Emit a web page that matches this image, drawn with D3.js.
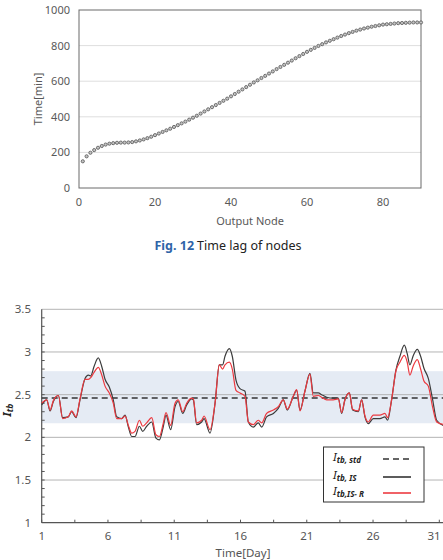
<!DOCTYPE html>
<html>
<head>
<meta charset="utf-8">
<script src="https://cdn.jsdelivr.net/npm/d3@7"></script>
<style>
  body { margin: 0; background: #fff; }
  text { font-family: "Noto Sans", "Open Sans", sans-serif; }
</style>
</head>
<body>
<div id="chart"></div>
<script>
// ---- Fig. 12 : time lag of nodes ----
var nodes = d3.range(1, 91);
var lagMin = [150, 178, 198, 213, 226, 236, 244, 249, 252, 254,
  255, 255, 256, 258, 262, 267, 273, 280, 288, 297,
  306, 315, 324, 333, 343, 353, 363, 373, 384, 395,
  406, 418, 430, 442, 454, 466, 478, 490, 502, 515,
  528, 541, 554, 567, 580, 593, 605, 618, 630, 643,
  655, 668, 680, 692, 704, 716, 729, 741, 753, 765,
  776, 787, 798, 808, 818, 827, 836, 845, 854, 862,
  870, 877, 884, 890, 896, 901, 906, 910, 914, 918,
  920, 922, 924, 926, 927, 928, 929, 930, 930, 930];
var lagTicksY = [0, 200, 400, 600, 800, 1000];
var lagTicksX = [0, 20, 40, 60, 80];

// ---- Itb chart ----
var days = [1, 1.38, 1.63, 1.88, 2.26, 2.58, 3.0, 3.26, 3.59, 3.89,
  4.27, 4.52, 4.7, 4.95, 5.27, 5.53, 5.78, 6.1, 6.4, 6.66,
  7.03, 7.29, 7.54, 7.79, 8.04, 8.37, 8.62, 8.92, 9.3, 9.62,
  9.88, 10.18, 10.38, 10.73, 11.06, 11.3, 11.64, 11.94, 12.32, 12.44,
  12.69, 13.07, 13.25, 13.7, 14.08, 14.4, 14.65, 14.83, 15.16, 15.38,
  15.66, 15.96, 16.34, 16.59, 16.97, 17.34, 17.6, 17.97, 18.48, 18.85,
  19.23, 19.53, 19.98, 20.24, 20.49, 20.86, 21.24, 21.49, 21.87, 22.12,
  22.5, 23.0, 23.38, 23.63, 23.88, 24.21, 24.46, 24.89, 25.14, 25.39,
  25.64, 26.02, 26.52, 26.9, 27.1, 27.4, 27.73, 28.03, 28.36, 28.58,
  28.78, 29.04, 29.34, 29.59, 29.84, 30.17, 30.5, 30.8, 31.3];
var itbIS = [2.38, 2.44, 2.31, 2.42, 2.49, 2.23, 2.24, 2.30, 2.23, 2.44,
  2.69, 2.73, 2.72, 2.83, 2.93, 2.83, 2.68, 2.59, 2.44, 2.24,
  2.22, 2.26, 2.12, 2.01, 2.01, 2.13, 2.07, 2.13, 2.18, 1.99,
  1.97, 2.13, 2.26, 2.09, 2.36, 2.42, 2.28, 2.38, 2.45, 2.44,
  2.15, 2.18, 2.22, 2.05, 2.40, 2.85, 2.85, 2.95, 3.04, 2.95,
  2.67, 2.57, 2.54, 2.18, 2.12, 2.17, 2.12, 2.24, 2.28, 2.34,
  2.44, 2.32, 2.48, 2.55, 2.32, 2.54, 2.75, 2.52, 2.52, 2.50,
  2.47, 2.46, 2.46, 2.28, 2.44, 2.52, 2.32, 2.30, 2.44, 2.24,
  2.16, 2.22, 2.22, 2.24, 2.20, 2.44, 2.79, 2.95, 3.08, 2.98,
  2.85, 2.96, 3.03, 2.95, 2.81, 2.69, 2.44, 2.20, 2.14];
var itbISR = [2.40, 2.44, 2.32, 2.43, 2.49, 2.22, 2.24, 2.31, 2.24, 2.45,
  2.68, 2.68, 2.70, 2.76, 2.82, 2.73, 2.60, 2.52, 2.40, 2.22,
  2.22, 2.25, 2.14, 2.05, 2.07, 2.20, 2.13, 2.17, 2.23, 2.03,
  2.01, 2.17, 2.29, 2.14, 2.40, 2.44, 2.30, 2.40, 2.46, 2.45,
  2.17, 2.20, 2.25, 2.09, 2.40, 2.85, 2.80, 2.85, 2.88, 2.80,
  2.55, 2.52, 2.48, 2.18, 2.15, 2.20, 2.17, 2.28, 2.32, 2.36,
  2.44, 2.33, 2.48, 2.56, 2.31, 2.54, 2.74, 2.48, 2.49, 2.47,
  2.44, 2.44, 2.45, 2.29, 2.44, 2.52, 2.33, 2.31, 2.44, 2.25,
  2.18, 2.26, 2.26, 2.28, 2.23, 2.44, 2.78, 2.88, 2.96, 2.88,
  2.73, 2.84, 2.91, 2.80, 2.66, 2.60, 2.35, 2.18, 2.15];
var itbStd = 2.46;
var itbBand = [2.165, 2.775];
var itbTicksY = [1, 1.5, 2, 2.5, 3, 3.5];
var itbTicksX = [1, 6, 11, 16, 21, 26, 31];

var svg = d3.select('#chart').append('svg')
    .attr('width', 443).attr('height', 560);

// ================= top chart =================
var x1 = d3.scaleLinear().domain([0, 90]).range([79, 421]);
var y1 = d3.scaleLinear().domain([0, 1000]).range([188, 10]);
var g1 = svg.append('g');

g1.selectAll('line.grid').data(lagTicksY.slice(1, -1)).enter().append('line')
    .attr('x1', x1(0)).attr('x2', x1(90))
    .attr('y1', function(d) { return y1(d); }).attr('y2', function(d) { return y1(d); })
    .attr('stroke', '#dedede').attr('stroke-width', 1);

g1.append('rect')
    .attr('x', x1(0)).attr('y', y1(1000))
    .attr('width', x1(90) - x1(0)).attr('height', y1(0) - y1(1000))
    .attr('fill', 'none').attr('stroke', '#6a6a6a').attr('stroke-width', 1);

g1.selectAll('text.ty').data(lagTicksY).enter().append('text')
    .attr('x', 70).attr('y', function(d) { return y1(d) + 4; })
    .attr('text-anchor', 'end').attr('font-size', 11).attr('fill', '#595959')
    .text(function(d) { return d; });

g1.selectAll('text.tx').data(lagTicksX).enter().append('text')
    .attr('x', function(d) { return x1(d); }).attr('y', 206)
    .attr('text-anchor', 'middle').attr('font-size', 11).attr('fill', '#595959')
    .text(function(d) { return d; });

g1.append('text').attr('x', 250).attr('y', 225)
    .attr('text-anchor', 'middle').attr('font-size', 11).attr('fill', '#595959')
    .text('Output  Node');
g1.append('text')
    .attr('transform', 'translate(42,99) rotate(-90)')
    .attr('text-anchor', 'middle').attr('font-size', 11).attr('fill', '#595959')
    .text('Time[min]');

g1.selectAll('circle').data(nodes).enter().append('circle')
    .attr('cx', function(d) { return x1(d); })
    .attr('cy', function(d, i) { return y1(lagMin[i]); })
    .attr('r', 1.6)
    .attr('fill', '#c4c4c4').attr('stroke', '#555').attr('stroke-width', 0.8);

var cap = svg.append('text').attr('x', 228).attr('y', 250)
    .attr('text-anchor', 'middle').attr('font-size', 12.5);
cap.append('tspan').attr('fill', '#2f64a8').attr('font-weight', 'bold').text('Fig. 12');
cap.append('tspan').attr('fill', '#222').attr('dx', 3).text('Time lag of nodes');

// ================= bottom chart =================
var x2 = d3.scaleLinear().domain([1, 31]).range([41.7, 439.3]);
var y2 = d3.scaleLinear().domain([1, 3.5]).range([522.7, 309.3]);
var g2 = svg.append('g');
var right = 445;

g2.append('rect')
    .attr('x', x2(1)).attr('y', y2(itbBand[1]))
    .attr('width', right - x2(1)).attr('height', y2(itbBand[0]) - y2(itbBand[1]))
    .attr('fill', '#e5ebf4');

g2.selectAll('line.grid').data(itbTicksY.slice(1)).enter().append('line')
    .attr('x1', x2(1)).attr('x2', right)
    .attr('y1', function(d) { return y2(d); }).attr('y2', function(d) { return y2(d); })
    .attr('stroke', '#b4b4b4').attr('stroke-width', 1);

// axes
g2.append('line').attr('x1', x2(1)).attr('x2', x2(1))
    .attr('y1', y2(3.5)).attr('y2', y2(1)).attr('stroke', '#555').attr('stroke-width', 1.2);
g2.append('line').attr('x1', x2(1)).attr('x2', right)
    .attr('y1', y2(1)).attr('y2', y2(1)).attr('stroke', '#555').attr('stroke-width', 1.2);

var minorY = d3.range(11, 35).map(function(d) { return d / 10; });
g2.selectAll('line.my').data(minorY).enter().append('line')
    .attr('x1', x2(1)).attr('x2', x2(1) + 3)
    .attr('y1', function(d) { return y2(d); }).attr('y2', function(d) { return y2(d); })
    .attr('stroke', '#555').attr('stroke-width', 1);
var minorX = d3.range(0, 13).map(function(d) { return 1 + d * 2.5; });
g2.selectAll('line.mx').data(minorX).enter().append('line')
    .attr('x1', function(d) { return x2(d); }).attr('x2', function(d) { return x2(d); })
    .attr('y1', y2(1)).attr('y2', y2(1) - 3)
    .attr('stroke', '#555').attr('stroke-width', 1);

g2.selectAll('text.ty').data(itbTicksY).enter().append('text')
    .attr('x', 31).attr('y', function(d) { return y2(d) + 4; })
    .attr('text-anchor', 'end').attr('font-size', 11.5).attr('fill', '#555')
    .text(function(d) { return d; });
g2.selectAll('text.tx').data(itbTicksX).enter().append('text')
    .attr('x', function(d) { return Math.min(x2(d), 434); }).attr('y', 540)
    .attr('text-anchor', 'middle').attr('font-size', 11.5).attr('fill', '#555')
    .text(function(d) { return d; });
g2.append('text').attr('x', 243).attr('y', 557)
    .attr('text-anchor', 'middle').attr('font-size', 11.5).attr('fill', '#555')
    .text('Time[Day]');

var yl = g2.append('text')
    .attr('transform', 'translate(11,410) rotate(-90)')
    .attr('text-anchor', 'middle').attr('fill', '#222')
    .attr('font-family', 'DejaVu Serif').attr('font-style', 'italic').attr('font-weight', 'bold');
yl.append('tspan').attr('font-size', 11).text('I');
yl.append('tspan').attr('font-size', 8.5).attr('dy', 2).text('tb');

// std line
g2.append('line').attr('x1', x2(1)).attr('x2', right)
    .attr('y1', y2(itbStd)).attr('y2', y2(itbStd))
    .attr('stroke', '#333').attr('stroke-width', 1.5).attr('stroke-dasharray', '6,4');

var line = d3.line()
    .x(function(d, i) { return x2(days[i]); })
    .y(function(d) { return y2(d); })
    .curve(d3.curveMonotoneX);

g2.append('path').datum(itbIS).attr('d', line)
    .attr('fill', 'none').attr('stroke', '#3c3c3c').attr('stroke-width', 1.2);
g2.append('path').datum(itbISR).attr('d', line)
    .attr('fill', 'none').attr('stroke', '#ec3a40').attr('stroke-width', 1.2);

// legend
var lg = g2.append('g');
lg.append('rect').attr('x', 323.5).attr('y', 447).attr('width', 100.5).attr('height', 55)
    .attr('fill', '#fff').attr('stroke', '#333').attr('stroke-width', 1);
var legendItems = [
  { sub: 'tb, std', color: '#333', dash: '6,4' },
  { sub: 'tb, IS', color: '#333', dash: null },
  { sub: 'tb,IS\u2212 R', color: '#ec3a40', dash: null }
];
var legendY = [458, 476, 492];
legendItems.forEach(function(it, i) {
  var t = lg.append('text').attr('x', 333).attr('y', legendY[i] + 3)
      .attr('font-family', 'DejaVu Serif').attr('font-style', 'italic').attr('fill', '#222');
  t.append('tspan').attr('font-size', 11.5).text('I');
  t.append('tspan').attr('font-size', 8).attr('font-weight', 'bold').attr('dy', 2).text(it.sub);
  lg.append('line').attr('x1', 383).attr('x2', 411)
      .attr('y1', legendY[i] + 1).attr('y2', legendY[i] + 1)
      .attr('stroke', it.color).attr('stroke-width', 1.6)
      .attr('stroke-dasharray', it.dash);
});
</script>
</body>
</html>
